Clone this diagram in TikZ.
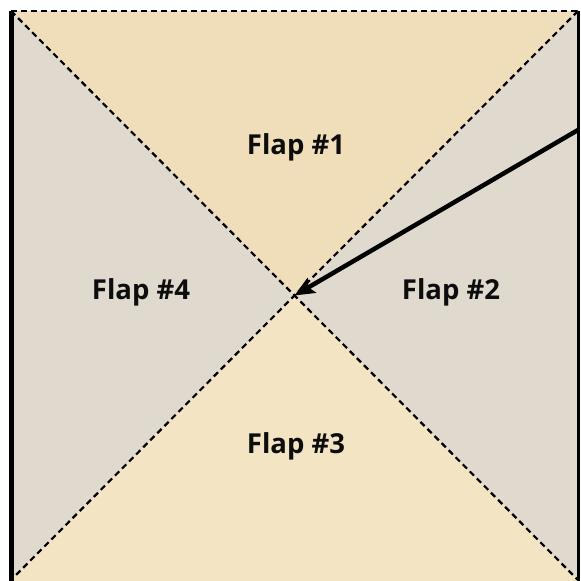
\documentclass[tikz,border=0pt]{standalone}
\usepackage{fontspec}
\setmainfont{Open Sans}
\usetikzlibrary{arrows.meta}
\definecolor{tanflap}{RGB}{240,222,186}
\definecolor{tanlow}{RGB}{243,228,196}
\definecolor{greyflap}{RGB}{224,218,206}
\begin{document}
\begin{tikzpicture}[x=1pt,y=-1pt,
  fold/.style={black,line width=2.2pt,dash pattern=on 6pt off 4pt},
  flaplabel/.style={font=\bfseries\fontsize{27.5}{30}\selectfont,inner sep=0pt,text=black!95,anchor=base},
  edge/.style={black}]
\useasboundingbox (0,0) rectangle (581,581);
\fill[white] (0,0) rectangle (581,581);
\coordinate (TL) at (11,11);
\coordinate (TR) at (578,11);
\coordinate (BL) at (11,580);
\coordinate (BR) at (578,580);
\coordinate (C) at (294.5,295.5);
\coordinate (Tend) at (581,11);
\coordinate (BLb) at (11,581);
\coordinate (BRb) at (578,581);
\coordinate (A) at (578,130);
% flaps
\fill[tanflap] (TL) -- (TR) -- (C) -- cycle;
\fill[tanlow] (BL) -- (BR) -- (BRb) -- (BLb) -- cycle;
\fill[tanlow] (BL) -- (BR) -- (C) -- cycle;
\fill[greyflap] (TL) -- (C) -- (BL) -- (BLb) -- cycle;
\fill[greyflap] (TR) -- (C) -- (BR) -- (BRb) -- cycle;
% folds
\draw[fold] (TL) -- (Tend);
\draw[fold] (TL) -- (BR);
\draw[fold] (TR) -- (BL);
% edges
\draw[edge,line width=5pt] (TL) -- (BLb);
\draw[edge,line width=3pt] (TR) -- (BRb);
% arrow
\draw[edge,line width=4.5pt,-{Stealth[length=20pt,width=17pt,inset=4pt]}] (A) -- (C);
% labels
\node[flaplabel] (f1) at (296,154) {Flap \#1};
\node[flaplabel] (f2) at (451,299) {Flap \#2};
\node[flaplabel] (f3) at (296,453) {Flap \#3};
\node[flaplabel] (f4) at (141,299) {Flap \#4};
\end{tikzpicture}
\end{document}
